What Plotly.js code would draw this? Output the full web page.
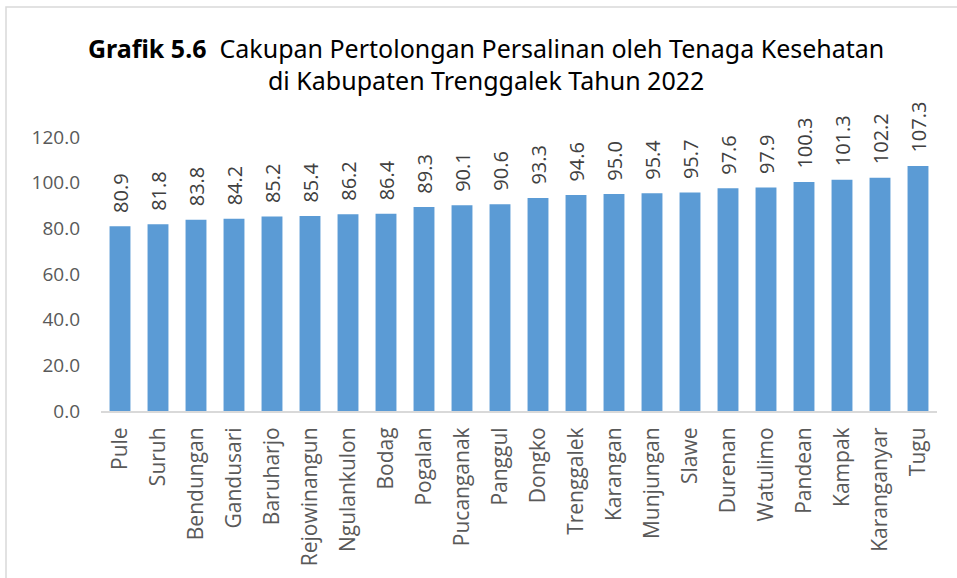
<!DOCTYPE html>
<html><head><meta charset="utf-8">
<script src="https://cdn.plot.ly/plotly-3.0.1.min.js"></script>
<style>html,body{margin:0;padding:0;background:#fff;}#chart{width:957px;height:578px;}</style>
</head><body><div id="chart"></div>
<script>
const categories = ["Pule","Suruh","Bendungan","Gandusari","Baruharjo","Rejowinangun","Ngulankulon","Bodag","Pogalan","Pucanganak","Panggul","Dongko","Trenggalek","Karangan","Munjungan","Slawe","Durenan","Watulimo","Pandean","Kampak","Karanganyar","Tugu"];
const values = [80.9,81.8,83.8,84.2,85.2,85.4,86.2,86.4,89.3,90.1,90.6,93.3,94.6,95.0,95.4,95.7,97.6,97.9,100.3,101.3,102.2,107.3];
const yTicks = [0,20,40,60,80,100,120];
const yTickText = yTicks.map(v => v.toFixed(1));

const font = "Open Sans, Noto Sans, sans-serif";
const trace = {
  type: 'bar', x: categories, y: values,
  marker: {color: '#5B9BD5'},
  text: values.map(v => '\u00a0\u00a0' + v.toFixed(1)),
  textposition: 'outside', textangle: -90, cliponaxis: false,
  constraintext: 'none',
  textfont: {family: font, size: 20, color: '#404040'},
  hoverinfo: 'x+y'
};
const layout = {
  width: 957, height: 578,
  margin: {l: 101, r: 20, t: 137, b: 167},
  paper_bgcolor: '#fff', plot_bgcolor: '#fff',
  bargap: 0.45,
  showlegend: false,
  title: {
    text: '<b>Grafik 5.6</b>  Cakupan Pertolongan Persalinan oleh Tenaga Kesehatan<br>di Kabupaten Trenggalek Tahun 2022',
    font: {family: "Noto Sans, Open Sans, sans-serif", size: 25, color: '#000'},
    x: 0.508, xanchor: 'center', y: 0.90, yanchor: 'top'
  },
  xaxis: {
    type: 'category', tickangle: -90, showgrid: false,
    showline: true, linecolor: '#D9D9D9', linewidth: 2, ticks: '',
    tickfont: {family: font, size: 21, color: '#595959'},
    ticklabelstandoff: 6
  },
  yaxis: {
    range: [0, 120], tickvals: yTicks, ticktext: yTickText,
    showgrid: false, zeroline: false, showline: false, ticks: '',
    tickfont: {family: font, size: 19, color: '#595959'},
    ticklabelstandoff: 20
  },
  shapes: [{
    type: 'rect', xref: 'paper', yref: 'paper',
    x0: (6 - 101) / 836, x1: (990 - 101) / 836,
    y0: (411 - 600) / 274, y1: (411 - 7) / 274,
    line: {color: '#D9D9D9', width: 1.5}, fillcolor: 'rgba(0,0,0,0)', layer: 'below'
  }]
};
Plotly.newPlot('chart', [trace], layout, {displayModeBar: false, staticPlot: true});
</script></body></html>
